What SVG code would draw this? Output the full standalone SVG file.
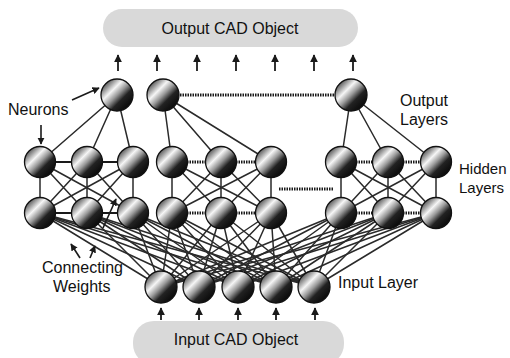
<svg xmlns="http://www.w3.org/2000/svg" width="510" height="358" viewBox="0 0 510 358">
  <style>
    .lbl { font-family: "Liberation Sans", Arial, sans-serif; font-size: 16px; fill: #111; }
    .box { fill: #d9d9d9; }
    .w { stroke: #2a2a2a; stroke-width: 1.5; fill: none; }
    .solid { stroke: #1a1a1a; stroke-width: 2.2; fill: none; }
    .dots { stroke: #1a1a1a; stroke-width: 2.8; stroke-dasharray: 1.5 1; fill: none; }
    .ptr { stroke: #1a1a1a; stroke-width: 1.6; fill: none; marker-end: url(#head); }
    .up { stroke: #1a1a1a; stroke-width: 1.8; fill: none; marker-end: url(#head); }
    .n { fill: url(#ball); stroke: #111; stroke-width: 1.3; }
  </style>
  <defs>
    <linearGradient id="ball" x1="0.05" y1="0.05" x2="0.95" y2="0.95">
      <stop offset="0" stop-color="#1e1e1e"/>
      <stop offset="0.16" stop-color="#808080"/>
      <stop offset="0.34" stop-color="#f6f6f6"/>
      <stop offset="0.5" stop-color="#9a9a9a"/>
      <stop offset="0.66" stop-color="#222"/>
      <stop offset="1" stop-color="#000"/>
    </linearGradient>
    <marker id="head" viewBox="0 0 10 10" refX="9" refY="5" markerWidth="4.5" markerHeight="4.5" orient="auto">
      <path d="M0,0 L10,5 L0,10 z" fill="#1a1a1a"/>
    </marker>
  </defs>

  <!-- input / output objects -->
  <g id="output-object">
    <rect class="box" x="103" y="9" width="255" height="38" rx="19"/>
    <text class="lbl" x="230" y="34" text-anchor="middle">Output CAD Object</text>
  </g>
  <g id="input-object">
    <rect class="box" x="133" y="321" width="211" height="44" rx="21"/>
    <text class="lbl" x="236" y="345" text-anchor="middle">Input CAD Object</text>
  </g>

  <!-- connectors -->
  <g id="connectors">
    <!-- outputs to the object above -->
    <line class="up" x1="118" y1="71" x2="118" y2="55"/>
    <line class="up" x1="157" y1="71" x2="157" y2="55"/>
    <line class="up" x1="197" y1="71" x2="197" y2="55"/>
    <line class="up" x1="236" y1="71" x2="236" y2="55"/>
    <line class="up" x1="275" y1="71" x2="275" y2="55"/>
    <line class="up" x1="314" y1="71" x2="314" y2="55"/>
    <line class="up" x1="353" y1="71" x2="353" y2="55"/>
    <!-- input object into input layer -->
    <line class="up" x1="161" y1="320" x2="161" y2="308"/>
    <line class="up" x1="199" y1="320" x2="199" y2="308"/>
    <line class="up" x1="238" y1="320" x2="238" y2="308"/>
    <line class="up" x1="276" y1="320" x2="276" y2="308"/>
    <line class="up" x1="315" y1="320" x2="315" y2="308"/>

    <!-- output layer to first hidden row -->
    <path class="w" d="M117,95 L40,162 M117,95 L87,162 M117,95 L133,162"/>
    <path class="w" d="M163,95 L172,162 M163,95 L221,162 M163,95 L271,162"/>
    <path class="w" d="M351,95 L341,162 M351,95 L388,162 M351,95 L436,162"/>
    <line class="dots" x1="180" y1="95" x2="335" y2="95"/>

    <!-- hidden rows, inside each group -->
    <path class="solid" d="M40,162 H133 M40,213 H133"/>
    <path class="dots" d="M187,162 H206 M236,162 H256 M187,213 H206 M236,213 H256"/>
    <path class="dots" d="M356,162 H373 M403,162 H421 M356,213 H373 M403,213 H421"/>
    <line class="dots" x1="279" y1="189" x2="333" y2="189"/>

    <!-- hidden row to hidden row -->
    <path class="w" d="M40,162 L40,213 M40,162 L87,213 M40,162 L133,213 M87,162 L40,213 M87,162 L87,213 M87,162 L133,213 M133,162 L40,213 M133,162 L87,213 M133,162 L133,213"/>
    <path class="w" d="M172,162 L172,213 M172,162 L221,213 M172,162 L271,213 M221,162 L172,213 M221,162 L221,213 M221,162 L271,213 M271,162 L172,213 M271,162 L221,213 M271,162 L271,213"/>
    <path class="w" d="M341,162 L341,213 M341,162 L388,213 M341,162 L436,213 M388,162 L341,213 M388,162 L388,213 M388,162 L436,213 M436,162 L341,213 M436,162 L388,213 M436,162 L436,213"/>

    <!-- input layer to second hidden row -->
    <path class="w" d="M161,287 L40,213 M161,287 L87,213 M161,287 L133,213 M161,287 L172,213 M161,287 L221,213 M161,287 L271,213 M161,287 L341,213 M161,287 L388,213 M161,287 L436,213"/>
    <path class="w" d="M199,287 L40,213 M199,287 L87,213 M199,287 L133,213 M199,287 L172,213 M199,287 L221,213 M199,287 L271,213 M199,287 L341,213 M199,287 L388,213 M199,287 L436,213"/>
    <path class="w" d="M238,287 L40,213 M238,287 L87,213 M238,287 L133,213 M238,287 L172,213 M238,287 L221,213 M238,287 L271,213 M238,287 L341,213 M238,287 L388,213 M238,287 L436,213"/>
    <path class="w" d="M276,287 L40,213 M276,287 L87,213 M276,287 L133,213 M276,287 L172,213 M276,287 L221,213 M276,287 L271,213 M276,287 L341,213 M276,287 L388,213 M276,287 L436,213"/>
    <path class="w" d="M314,287 L40,213 M314,287 L87,213 M314,287 L133,213 M314,287 L172,213 M314,287 L221,213 M314,287 L271,213 M314,287 L341,213 M314,287 L388,213 M314,287 L436,213"/>

    <!-- label pointers -->
    <line class="ptr" x1="72" y1="100" x2="99" y2="88"/>
    <line class="ptr" x1="41" y1="125" x2="41" y2="144"/>
    <line class="ptr" x1="80" y1="258" x2="71" y2="244"/>
    <line class="ptr" x1="90" y1="258" x2="95" y2="246"/>
    <line class="ptr" x1="103" y1="228" x2="116" y2="199"/>
  </g>

  <!-- output layer -->
  <g id="out1"><circle class="n" cx="117" cy="95" r="16"/></g>
  <g id="out2"><circle class="n" cx="163" cy="95" r="16"/></g>
  <g id="out3"><circle class="n" cx="351" cy="95" r="16"/></g>

  <!-- hidden layers, first row -->
  <g id="h1a"><circle class="n" cx="40" cy="162" r="15.5"/></g>
  <g id="h1b"><circle class="n" cx="87" cy="162" r="15.5"/></g>
  <g id="h1c"><circle class="n" cx="133" cy="162" r="15.5"/></g>
  <g id="h1d"><circle class="n" cx="172" cy="162" r="15.5"/></g>
  <g id="h1e"><circle class="n" cx="221" cy="162" r="15.5"/></g>
  <g id="h1f"><circle class="n" cx="271" cy="162" r="15.5"/></g>
  <g id="h1g"><circle class="n" cx="341" cy="162" r="15.5"/></g>
  <g id="h1h"><circle class="n" cx="388" cy="162" r="15.5"/></g>
  <g id="h1i"><circle class="n" cx="436" cy="162" r="15.5"/></g>

  <!-- hidden layers, second row -->
  <g id="h2a"><circle class="n" cx="40" cy="213" r="15.5"/></g>
  <g id="h2b"><circle class="n" cx="87" cy="213" r="15.5"/></g>
  <g id="h2c"><circle class="n" cx="133" cy="213" r="15.5"/></g>
  <g id="h2d"><circle class="n" cx="172" cy="213" r="15.5"/></g>
  <g id="h2e"><circle class="n" cx="221" cy="213" r="15.5"/></g>
  <g id="h2f"><circle class="n" cx="271" cy="213" r="15.5"/></g>
  <g id="h2g"><circle class="n" cx="341" cy="213" r="15.5"/></g>
  <g id="h2h"><circle class="n" cx="388" cy="213" r="15.5"/></g>
  <g id="h2i"><circle class="n" cx="436" cy="213" r="15.5"/></g>

  <!-- input layer -->
  <g id="in1"><circle class="n" cx="161" cy="287" r="16"/></g>
  <g id="in2"><circle class="n" cx="199" cy="287" r="16"/></g>
  <g id="in3"><circle class="n" cx="238" cy="287" r="16"/></g>
  <g id="in4"><circle class="n" cx="276" cy="287" r="16"/></g>
  <g id="in5"><circle class="n" cx="314" cy="287" r="16"/></g>

  <!-- labels -->
  <g id="labels">
    <text class="lbl" x="8" y="115">Neurons</text>
    <text class="lbl" x="400" y="106">Output</text>
    <text class="lbl" x="400" y="125">Layers</text>
    <text class="lbl" x="459" y="174" style="font-size:15px">Hidden</text>
    <text class="lbl" x="459" y="193" style="font-size:15px">Layers</text>
    <text class="lbl" x="42" y="273">Connecting</text>
    <text class="lbl" x="53" y="292">Weights</text>
    <text class="lbl" x="338" y="288">Input Layer</text>
  </g>
</svg>
